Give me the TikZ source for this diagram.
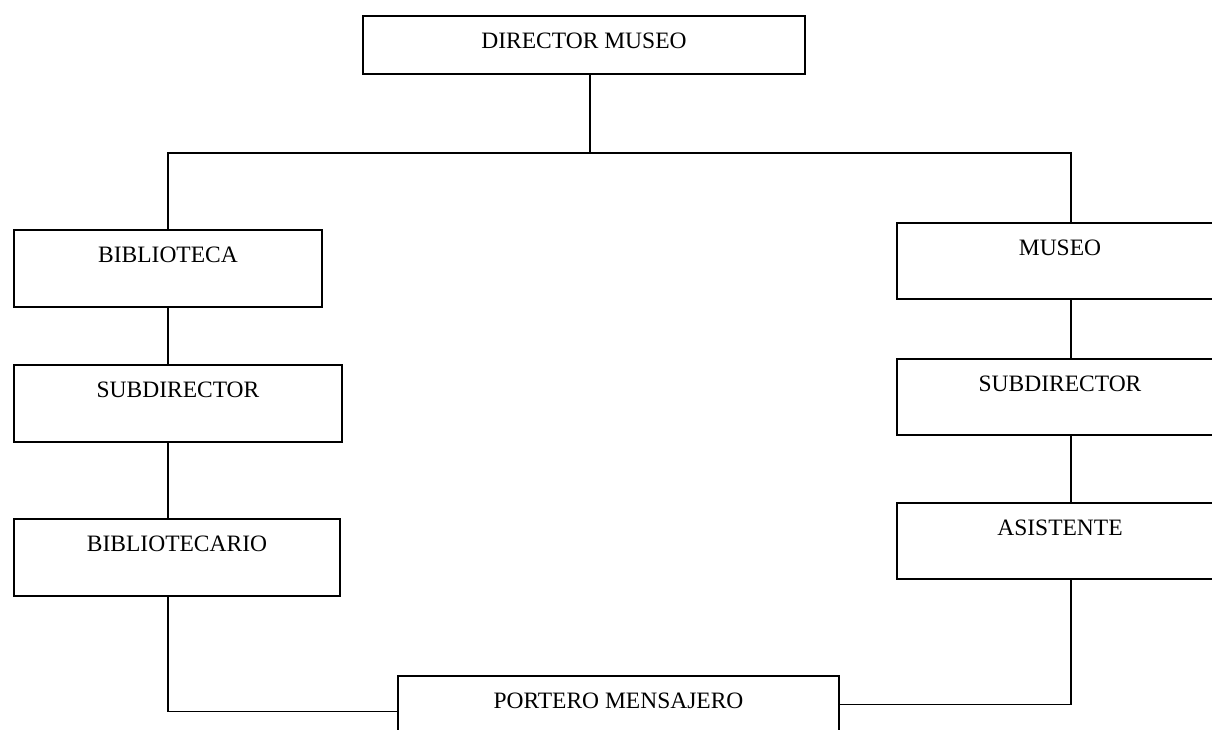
\documentclass[tikz,border=0pt]{standalone}
\usepackage{fontspec}
\setmainfont{Liberation Serif}
\usetikzlibrary{positioning}

\begin{document}
\begin{tikzpicture}[
x=1pt,y=-1pt,
line width=1.6pt,
box/.style={draw,inner sep=0pt,anchor=north,text height=33pt,text depth=44pt,
	font=\fontsize{23.5}{28}\selectfont}
]
\useasboundingbox (0,0) rectangle (1212,729);
\clip (0,0) rectangle (1212,729);

%\node (title) at (600,0) {organigrama};
\node[box,minimum width=442pt,text depth=25pt] (dir) at (584,15) {DIRECTOR MUSEO};
	\node[box,minimum width=308pt] (bib) at (168,229) {BIBLIOTECA};
		\node[box,minimum width=328pt] (sub1) at (178,364) {SUBDIRECTOR};
		\node[box,minimum width=326pt] (bibt) at (177,518) {BIBLIOTECARIO};
	\node[box,minimum width=326pt,text depth=43pt] (mus) at (1060,222) {MUSEO};
		\node[box,minimum width=326pt,text depth=43pt] (sub2) at (1060,358) {SUBDIRECTOR};
		\node[box,minimum width=326pt,text depth=43pt] (asi) at (1060,502) {ASISTENTE};
\node[box,minimum width=441pt] (port) at (618.5,675) {PORTERO MENSAJERO};

\coordinate (bus) at (590,153);
\coordinate (rl) at (1071,0);

\draw (dir.south -| bus) -- (bus);
\draw (bib.north) |- (bus) -| (rl |- mus.north);
	\draw (bib.south) -- (bib.south |- sub1.north);
	\draw (bib.south |- sub1.south) -- (bib.south |- bibt.north);
	\draw (bib.south |- bibt.south) |- ([yshift=3pt]port.west);
	\draw (rl |- mus.south) -- (rl |- sub2.north);
	\draw (rl |- sub2.south) -- (rl |- asi.north);
	\draw (rl |- asi.south) |- ([yshift=10pt]port.east);

\end{tikzpicture}
\end{document}
